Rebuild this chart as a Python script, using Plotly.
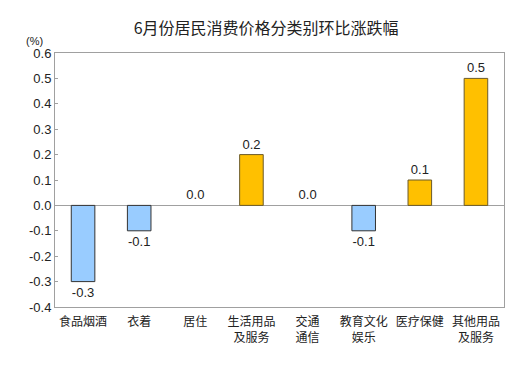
import plotly.graph_objects as go

categories = ["食品烟酒", "衣着", "居住", "生活用品<br>及服务", "交通<br>通信", "教育文化<br>娱乐", "医疗保健", "其他用品<br>及服务"]
values = [-0.3, -0.1, 0.0, 0.2, 0.0, -0.1, 0.1, 0.5]
labels = ["-0.3", "-0.1", "0.0", "0.2", "0.0", "-0.1", "0.1", "0.5"]
tick_vals = [-0.4, -0.3, -0.2, -0.1, 0.0, 0.1, 0.2, 0.3, 0.4, 0.5, 0.6]
tick_text = ["-0.4", "-0.3", "-0.2", "-0.1", "0.0", "0.1", "0.2", "0.3", "0.4", "0.5", "0.6"]

colors = ["#99CCFF" if v < 0 else "#FFC000" for v in values]
line_colors = ["#333333" if v < 0 else "#6B5A2A" for v in values]
line_widths = [0 if v == 0 else 1 for v in values]

fig = go.Figure(go.Bar(
    x=categories, y=values,
    marker=dict(color=colors, line=dict(color=line_colors, width=line_widths)),
    width=0.42,
    text=labels, textposition="outside", cliponaxis=False,
    textfont=dict(family="Liberation Sans, Arial", size=13, color="#222222"),
))

fig.update_layout(
    width=526, height=366,
    margin=dict(l=55, r=22, t=53, b=59, autoexpand=False),
    paper_bgcolor="white", plot_bgcolor="white",
    showlegend=False,
    title=dict(text="6月份居民消费价格分类别环比涨跌幅", x=0.506, xanchor="center", y=0.923, yanchor="middle",
               font=dict(family="Noto Sans CJK SC", size=16, color="#222222")),
    font=dict(family="Noto Sans CJK SC", color="#222222"),
)
fig.update_xaxes(
    showline=True, linecolor="#A0A0A0", linewidth=1, mirror=True,
    ticks="", ticklabelstandoff=4,
    tickfont=dict(family="Noto Sans CJK SC", size=12, color="#222222"),
)
fig.update_yaxes(
    range=[-0.4, 0.6], tickvals=tick_vals, ticktext=tick_text,
    showline=True, linecolor="#A0A0A0", linewidth=1, mirror=True,
    showgrid=False, zeroline=True, zerolinecolor="#A0A0A0", zerolinewidth=1,
    ticks="inside", ticklen=3, tickcolor="#A0A0A0",
    tickfont=dict(family="Liberation Sans, Arial", size=13, color="#222222"),
)
fig.add_annotation(text="(%)", xref="paper", yref="paper", x=0, y=1, xanchor="center", yanchor="bottom",
                   xshift=-21, yshift=4, showarrow=False,
                   font=dict(family="Liberation Sans, Arial", size=11, color="#222222"))

fig.write_html("out.html", config={"displayModeBar": False},
               post_script="document.body.style.margin='0';")
